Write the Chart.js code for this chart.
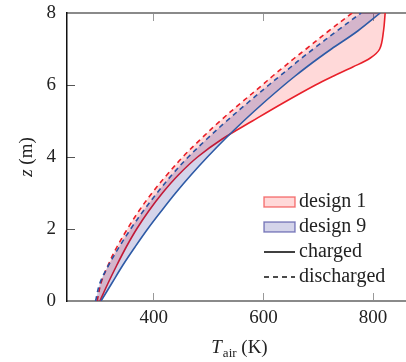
<!DOCTYPE html>
<html>
<head>
<meta charset="utf-8">
<script src="https://cdn.jsdelivr.net/npm/chart.js@4.4.1/dist/chart.umd.min.js"></script>
<style>
  html, body { margin: 0; padding: 0; background: #fff; }
  #wrap { width: 406px; height: 362px; position: relative; }
</style>
</head>
<body>
<div id="wrap"><canvas id="profileChart"></canvas></div>
<script>
const serif = "'Liberation Serif', 'DejaVu Serif', serif";
const textColor = '#222';
const red = '#e8202a';
const blue = '#2d5aa6';
const redFill = 'rgba(255, 0, 0, 0.15)';
const blueFill = 'rgba(0, 0, 128, 0.17)';

// heights z (m) and air temperatures (K)
const heights           = [0,   0.5, 1,   1.5, 2,   2.5, 3,   3.5, 4,   4.5, 5,   5.5, 6,   6.25, 6.5, 6.75, 7,   7.5, 8];
const design1Charged    = [302, 317, 333, 350, 369, 391, 416, 445, 480, 525, 580, 636, 695, 728,  763, 795,  812, 819, 822];
const design1Discharged = [297, 304, 317, 333, 352, 373, 397, 424, 453, 486, 521, 559, 598, 617,  637, 657,  678, 719, 762];
const design9Charged    = [304, 324, 344, 366, 389, 414, 440, 468, 498, 530, 564, 600, 638, 658,  679, 701,  724, 772, 813];
const design9Discharged = [294, 302, 318, 337, 358, 381, 406, 433, 463, 497, 533, 571, 610, 630,  650, 670,  691, 734, 778];

const xTicks = [400, 600, 800];
const yTicks = [0, 2, 4, 6, 8];
const legendLabels = ['design 1', 'design 9', 'charged', 'discharged'];

function points(temps) {
  return temps.map((t, i) => ({ x: t, y: heights[i] }));
}

function makeLine(label, temps, color, opts = {}) {
  return {
    label,
    data: points(temps),
    borderColor: color,
    backgroundColor: opts.fill || 'transparent',
    fill: opts.fill ? '+1' : false,
    borderWidth: 1.6,
    borderDash: opts.dashed ? [5, 4] : [],
    pointRadius: 0,
    tension: 0.35,
  };
}

// no half-label padding, so the plot frame lands where the reference has it
function noPad(s) {
  s.paddingTop = 0; s.paddingBottom = 0; s.paddingLeft = 0; s.paddingRight = 0;
}

const axisTitles = {
  id: 'axisTitles',
  afterDraw(chart) {
    const { ctx, chartArea: a } = chart;
    ctx.save();
    ctx.fillStyle = textColor;
    ctx.textBaseline = 'alphabetic';
    ctx.textAlign = 'left';

    // x title: T_air (K)
    const big = '19px ' + serif, small = '13px ' + serif, ital = 'italic 19px ' + serif;
    ctx.font = ital; const wT = ctx.measureText('T').width;
    ctx.font = small; const wA = ctx.measureText('air').width;
    ctx.font = big; const wK = ctx.measureText(' (K)').width;
    let x = (a.left + a.right) / 2 + 3 - (wT + wA + wK + 1) / 2;
    const base = 353;
    ctx.font = ital; ctx.fillText('T', x, base); x += wT + 1;
    ctx.font = small; ctx.fillText('air', x, base + 4); x += wA;
    ctx.font = big; ctx.fillText(' (K)', x, base);

    // y title: z (m)
    ctx.translate(32, (a.top + a.bottom) / 2);
    ctx.rotate(-Math.PI / 2);
    ctx.font = ital; const wz = ctx.measureText('z').width;
    ctx.font = big; const wm = ctx.measureText(' (m)').width;
    let y = -(wz + wm) / 2;
    ctx.font = ital; ctx.fillText('z', y, 0); y += wz;
    ctx.font = big; ctx.fillText(' (m)', y, 0);
    ctx.restore();
  }
};

const cornerLegend = {
  id: 'cornerLegend',
  afterDraw(chart) {
    const { ctx, chartArea: a } = chart;
    const x0 = a.right - 142, y0 = a.bottom - 99, step = 25;
    const boxes = [[redFill, 'rgba(240, 50, 50, 0.65)'], [blueFill, 'rgba(50, 50, 150, 0.6)']];
    ctx.save();
    legendLabels.forEach((label, i) => {
      const y = y0 + i * step;
      if (i < 2) {
        ctx.fillStyle = boxes[i][0];
        ctx.fillRect(x0, y - 5, 31, 10);
        ctx.strokeStyle = boxes[i][1];
        ctx.lineWidth = 1.4;
        ctx.strokeRect(x0, y - 5, 31, 10);
      } else {
        ctx.strokeStyle = '#111';
        ctx.lineWidth = 1.6;
        ctx.setLineDash(i === 3 ? [5, 4] : []);
        ctx.beginPath();
        ctx.moveTo(x0, y);
        ctx.lineTo(x0 + 31, y);
        ctx.stroke();
        ctx.setLineDash([]);
      }
      ctx.fillStyle = textColor;
      ctx.font = '20px ' + serif;
      ctx.textBaseline = 'alphabetic';
      ctx.fillText(label, x0 + 35, y + 5);
    });
    ctx.restore();
  }
};

new Chart(document.getElementById('profileChart'), {
  type: 'line',
  data: {
    datasets: [
      makeLine('design 9 charged', design9Charged, blue, { fill: blueFill }),
      makeLine('design 9 discharged', design9Discharged, blue, { dashed: true }),
      makeLine('design 1 charged', design1Charged, red, { fill: redFill }),
      makeLine('design 1 discharged', design1Discharged, red, { dashed: true }),
    ],
  },
  options: {
    indexAxis: 'y',
    responsive: true,
    maintainAspectRatio: false,
    animation: false,
    layout: { padding: 0 },
    plugins: {
      legend: { display: false },
      tooltip: { enabled: false },
    },
    scales: {
      x: {
        type: 'linear',
        position: 'bottom',
        min: 242,
        max: 860,
        afterBuildTicks: s => { s.ticks = xTicks.map(v => ({ value: v })); },
        afterFit: s => { s.height = 61; noPad(s); },
        ticks: { color: textColor, font: { family: serif, size: 19 }, padding: 14, maxRotation: 0 },
        grid: { drawOnChartArea: false, tickLength: -8, tickColor: '#999', tickWidth: 1 },
        border: { color: '#8a8a8a', width: 2 },
      },
      xTop: {
        type: 'linear',
        axis: 'x',
        position: 'top',
        min: 242,
        max: 860,
        afterBuildTicks: s => { s.ticks = xTicks.map(v => ({ value: v })); },
        afterFit: s => { s.height = 13; noPad(s); },
        ticks: { display: false },
        grid: { drawOnChartArea: false, tickLength: -8, tickColor: '#999', tickWidth: 1 },
        border: { color: '#8a8a8a', width: 2 },
      },
      y: {
        type: 'linear',
        min: 0,
        max: 8,
        afterBuildTicks: s => { s.ticks = yTicks.map(v => ({ value: v })); },
        afterFit: s => { s.width = 67; noPad(s); },
        ticks: { color: textColor, font: { family: serif, size: 19 }, padding: 19 },
        grid: { drawOnChartArea: false, tickLength: -8, tickColor: '#555', tickWidth: 1 },
        border: { color: '#111', width: 1.5 },
      },
    },
  },
  plugins: [axisTitles, cornerLegend],
});
</script>
</body>
</html>
